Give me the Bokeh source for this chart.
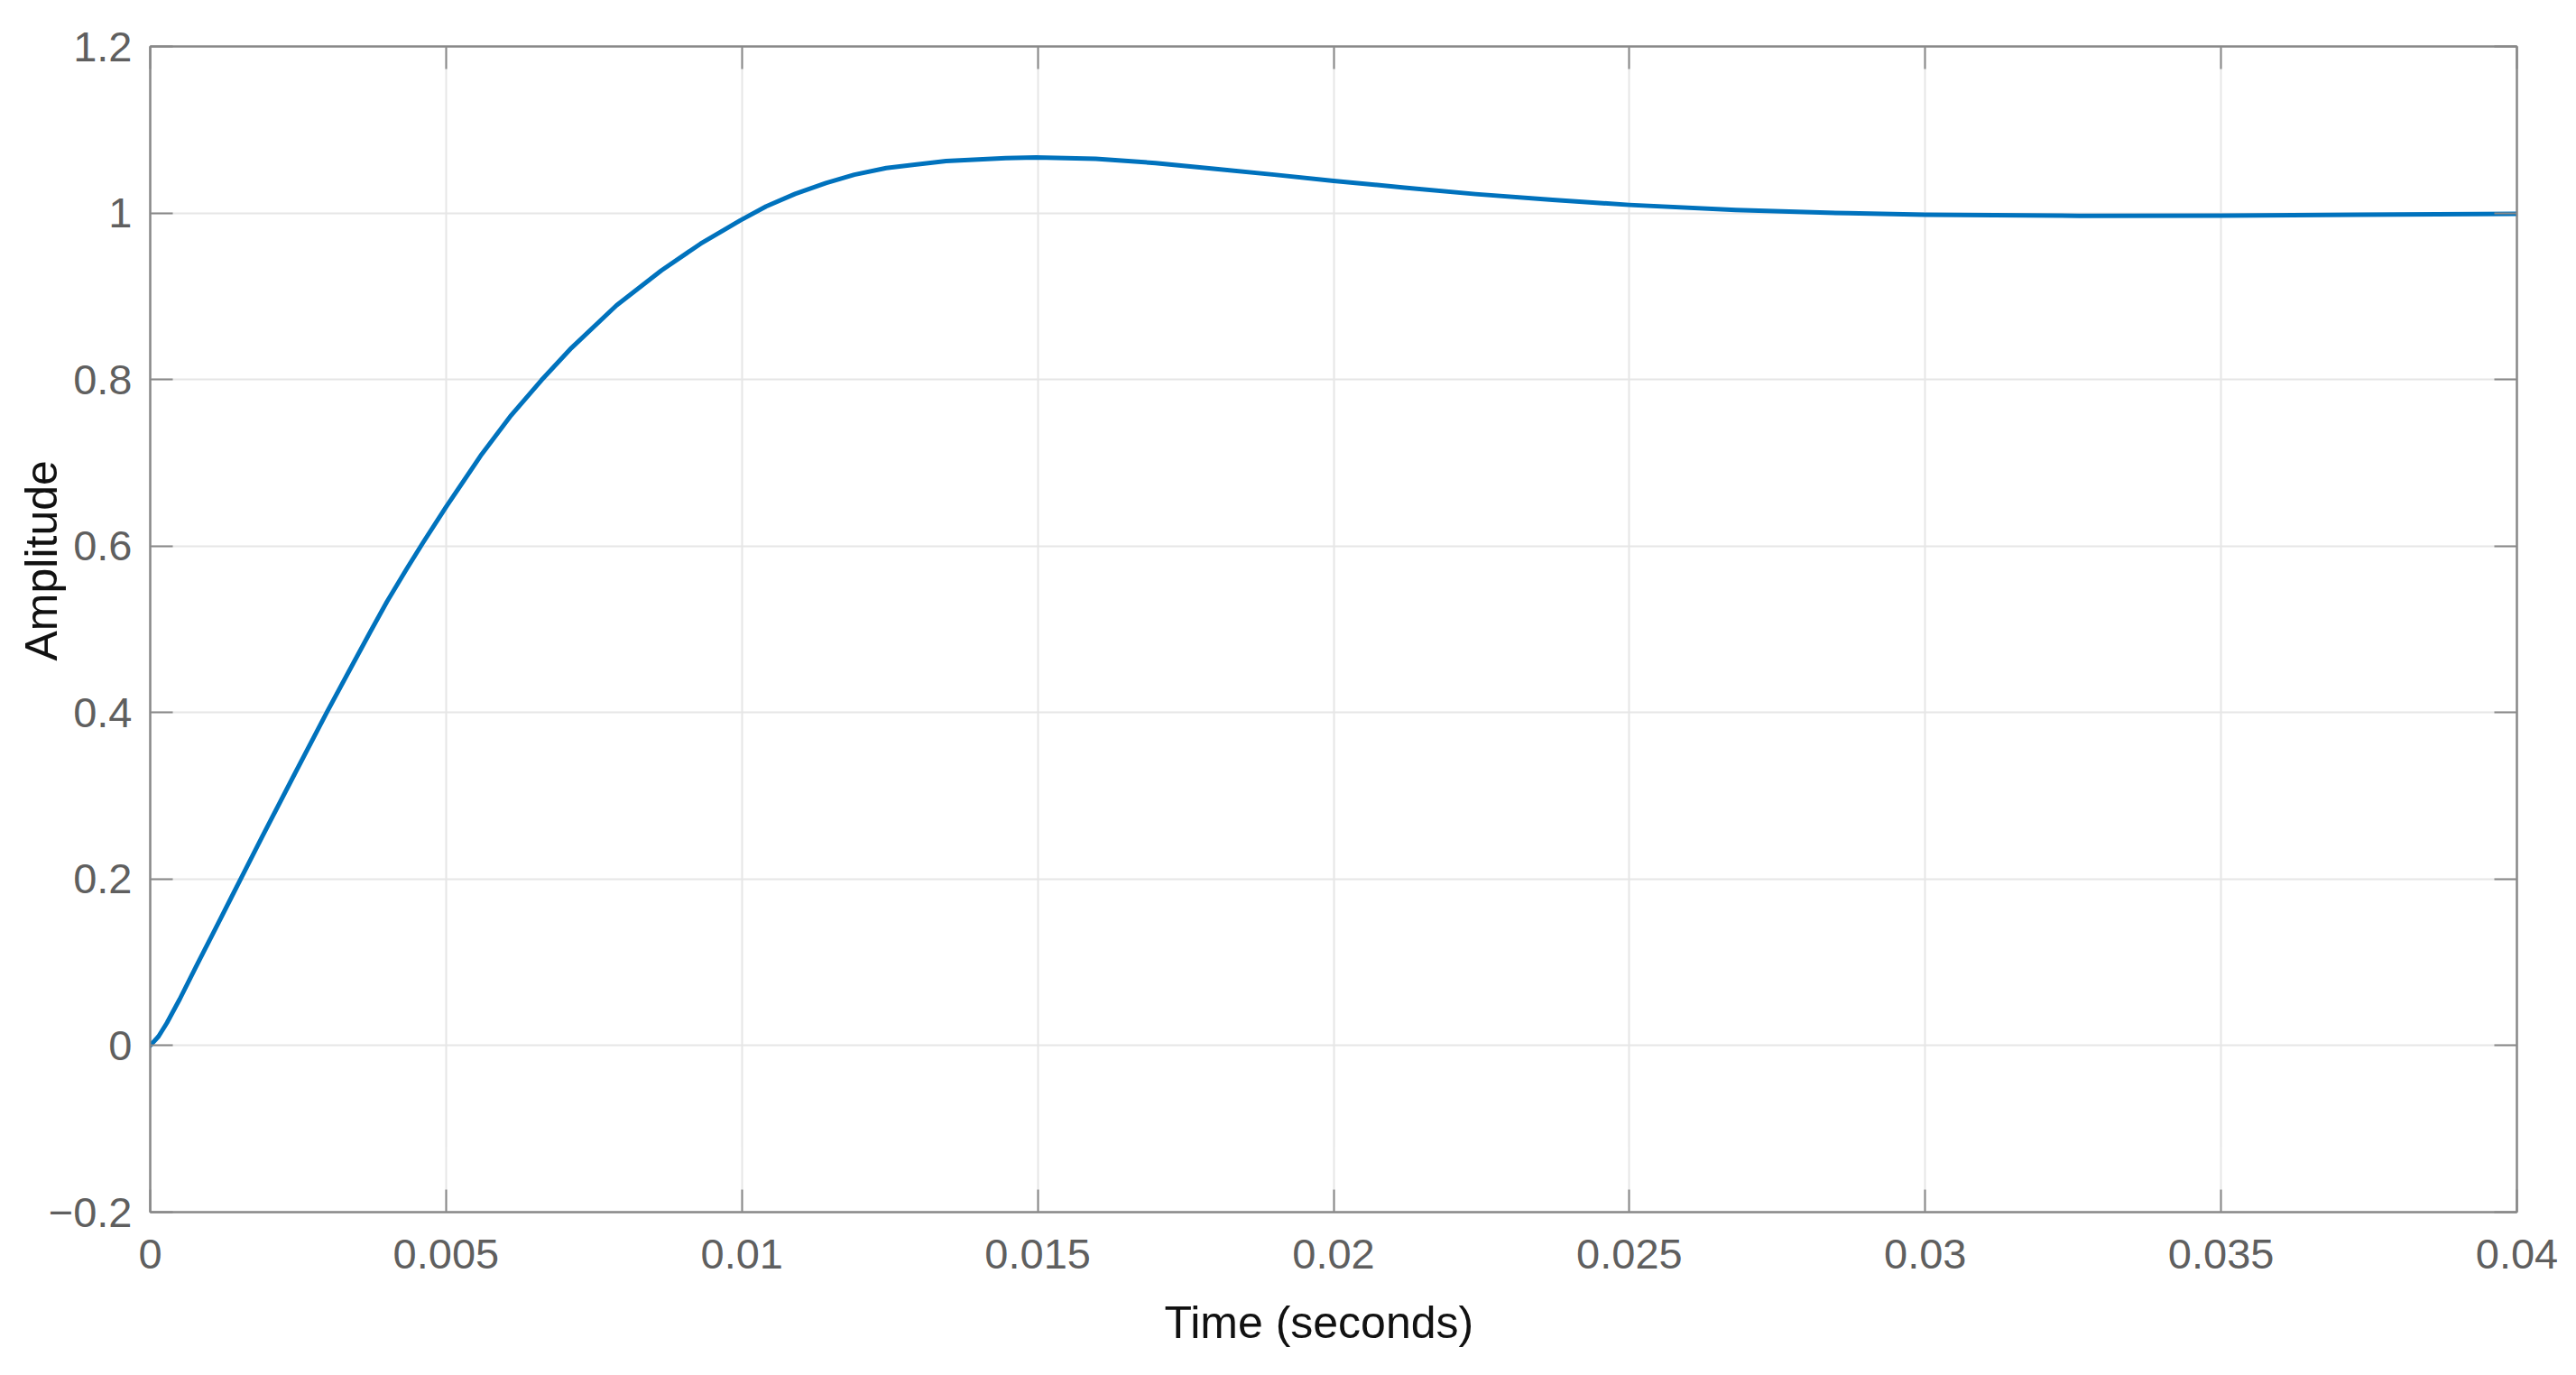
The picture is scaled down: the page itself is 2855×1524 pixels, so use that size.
from bokeh.plotting import figure
from bokeh.models import LinearAxis, FixedTicker, Range1d, Title
from bokeh.embed import file_html
from bokeh.resources import INLINE

# Step response (time in seconds, amplitude)
time_s = [0.0, 0.00014, 0.00028, 0.0005, 0.00079, 0.0011, 0.00152, 0.0019,
          0.00241, 0.00299, 0.0034, 0.00372, 0.004, 0.00433, 0.00461, 0.005,
          0.0056, 0.0061, 0.00661, 0.00712, 0.00788, 0.00864, 0.0093, 0.00997,
          0.01041, 0.0109, 0.01142, 0.0119, 0.01244, 0.01345, 0.01446, 0.01497,
          0.01598, 0.01699, 0.01801, 0.019, 0.02, 0.0212, 0.0224, 0.0237,
          0.025, 0.0268, 0.0287, 0.03, 0.0326, 0.035, 0.0373, 0.04]
amplitude = [0.0, 0.011, 0.027, 0.056, 0.097, 0.140, 0.199, 0.252,
             0.322, 0.401, 0.455, 0.497, 0.533, 0.572, 0.604, 0.647,
             0.710, 0.757, 0.799, 0.838, 0.889, 0.931, 0.963, 0.991,
             1.008, 1.023, 1.036, 1.046, 1.054, 1.0625, 1.066, 1.0666,
             1.065, 1.060, 1.053, 1.046, 1.0385, 1.0305, 1.0227, 1.0158,
             1.0097, 1.0035, 0.9997, 0.998, 0.9966, 0.9968, 0.998, 0.999]

x_ticks = [0, 0.005, 0.01, 0.015, 0.02, 0.025, 0.03, 0.035, 0.04]
x_tick_labels = ["0", "0.005", "0.01", "0.015", "0.02", "0.025", "0.03", "0.035", "0.04"]
y_ticks = [-0.2, 0, 0.2, 0.4, 0.6, 0.8, 1, 1.2]
y_tick_labels = ["\u22120.2", "0", "0.2", "0.4", "0.6", "0.8", "1", "1.2"]

x_label = "Time (seconds)"
y_label = "Amplitude"

AX_COLOR = "#888888"
TICK_FONT = "Liberation Sans Narrow, Liberation Sans"
LABEL_FONT = "Liberation Sans"

p = figure(width=2839, height=1524,
           x_range=Range1d(0, 0.04), y_range=Range1d(-0.2, 1.2),
           output_backend="svg", toolbar_location=None,
           min_border_left=166, min_border_right=50,
           min_border_top=51, min_border_bottom=181)

p.background_fill_color = "white"
p.border_fill_color = "white"
p.outline_line_color = AX_COLOR
p.outline_line_width = 2

p.xaxis.ticker = FixedTicker(ticks=x_ticks)
p.yaxis.ticker = FixedTicker(ticks=y_ticks)
p.xaxis.major_label_overrides = dict(zip(x_ticks, x_tick_labels))
p.yaxis.major_label_overrides = dict(zip(y_ticks, y_tick_labels))

p.xgrid.ticker = FixedTicker(ticks=x_ticks)
p.ygrid.ticker = FixedTicker(ticks=y_ticks)
for g in (p.xgrid, p.ygrid):
    g.grid_line_color = "#e6e6e6"
    g.grid_line_width = 2

for ax in (p.xaxis[0], p.yaxis[0]):
    ax.axis_line_color = AX_COLOR
    ax.axis_line_width = 2
    ax.major_tick_line_color = AX_COLOR
    ax.major_tick_line_width = 2
    ax.major_tick_in = 25
    ax.major_tick_out = 0
    ax.minor_tick_line_color = None
    ax.major_label_text_font = TICK_FONT
    ax.major_label_text_font_size = "47px"
    ax.major_label_text_color = "#5f5f5f"

p.xaxis.major_label_standoff = 30
p.yaxis.major_label_standoff = 20

# axis titles, placed where the reference has them
p.add_layout(Title(text=x_label, align="left", vertical_align="top",
                   offset=1124, standoff=58,
                   text_font=LABEL_FONT, text_font_size="50px",
                   text_font_style="normal", text_color="#111111"), "below")
p.add_layout(Title(text=y_label, align="left", vertical_align="top",
                   offset=611, standoff=-51,
                   text_font=LABEL_FONT, text_font_size="50px",
                   text_font_style="normal", text_color="#111111"), "left")

# mirrored ticks on top and right (box on)
for loc, tk in (("above", x_ticks), ("right", y_ticks)):
    ax = LinearAxis(ticker=FixedTicker(ticks=tk))
    ax.axis_line_color = AX_COLOR
    ax.axis_line_width = 2
    ax.major_tick_line_color = AX_COLOR
    ax.major_tick_line_width = 2
    ax.major_tick_in = 25
    ax.major_tick_out = 0
    ax.minor_tick_line_color = None
    ax.major_label_text_font_size = "0px"
    ax.major_label_text_alpha = 0
    ax.major_label_standoff = 0
    p.add_layout(ax, loc)

p.line(time_s, amplitude, line_color="#0072BD", line_width=5,
       line_join="round", line_cap="round")

open("out.html", "w").write(file_html(p, INLINE))
